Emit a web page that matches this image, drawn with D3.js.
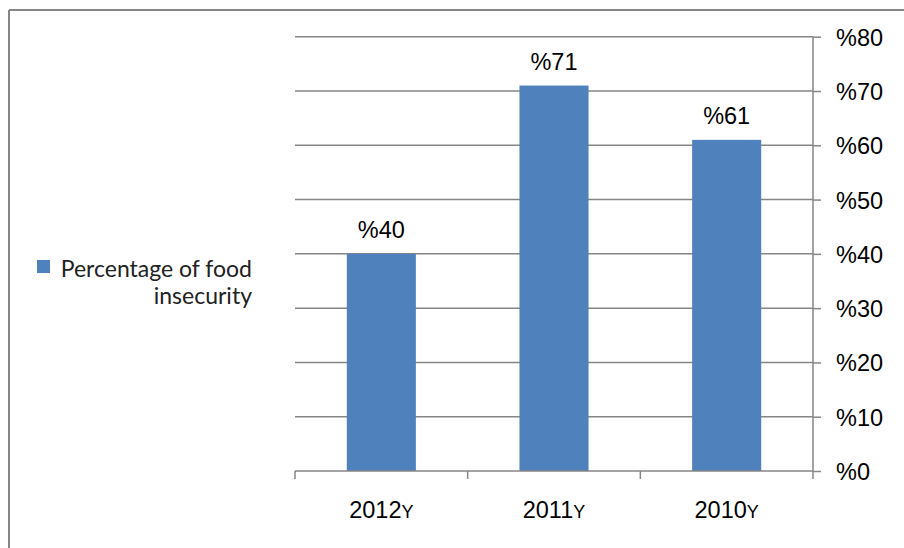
<!DOCTYPE html>
<html>
<head>
<meta charset="utf-8">
<script src="https://cdn.jsdelivr.net/npm/d3@7"></script>
<style>
  html, body { margin: 0; padding: 0; background: #fff; }
  svg { display: block; }
</style>
</head>
<body>
<svg id="chart" width="904" height="548"></svg>
<script>
// Food insecurity by year
const categories = ["2012", "2011", "2010"];
const categorySuffix = "Y";
const values = [40, 71, 61];
const seriesName = "Percentage of food";
const seriesNameLine2 = "insecurity";
const yTicks = [0, 10, 20, 30, 40, 50, 60, 70, 80];

const barColor = "#4F81BD";
const lineColor = "#868686";
const numFont = "'Liberation Sans', Arial, sans-serif";

const svg = d3.select("#chart");
const plot = { left: 295, right: 813, top: 36.7, bottom: 471 };

// Outer frame: top and left edges
svg.append("line").attr("x1", 9).attr("x2", 904).attr("y1", 10).attr("y2", 10)
  .attr("stroke", lineColor).attr("stroke-width", 2);
svg.append("line").attr("x1", 9).attr("x2", 9).attr("y1", 10).attr("y2", 548)
  .attr("stroke", lineColor).attr("stroke-width", 2);

const x = d3.scaleBand().domain(categories).range([plot.left, plot.right]).paddingInner(0.6).paddingOuter(0.3);
const xCat = d3.scaleBand().domain(categories).range([plot.left, plot.right]);
const y = d3.scaleLinear().domain([0, 80]).range([plot.bottom, plot.top]);

// Horizontal gridlines
svg.append("g").selectAll("line").data(yTicks.filter(d => d > 0)).join("line")
  .attr("x1", plot.left).attr("x2", plot.right)
  .attr("y1", d => y(d)).attr("y2", d => y(d))
  .attr("stroke", lineColor).attr("stroke-width", 1.5);

// Right value axis
const yAxis = d3.axisRight(y).tickValues(yTicks).tickSize(8).tickPadding(15)
  .tickFormat(d => "%" + d);
const gy = svg.append("g").attr("transform", `translate(${plot.right},0)`).call(yAxis);
gy.select(".domain").attr("stroke", lineColor).attr("stroke-width", 1.5).attr("d", `M0,${plot.top}V${plot.bottom}`);
gy.selectAll(".tick line").attr("stroke", lineColor).attr("stroke-width", 1.5);
gy.selectAll(".tick text").attr("fill", "#000").attr("dy", "0.36em")
  .style("font-family", numFont).style("font-size", "23.5px");

// Bars
svg.append("g").selectAll("rect").data(values).join("rect")
  .attr("x", (d, i) => x(categories[i]))
  .attr("width", x.bandwidth())
  .attr("y", d => y(d))
  .attr("height", d => y(0) - y(d))
  .attr("fill", barColor);

// Category axis along the bottom
const xAxis = d3.axisBottom(xCat).tickSize(0).tickFormat("");
const gx = svg.append("g").attr("transform", `translate(0,${plot.bottom})`).call(xAxis);
gx.select(".domain").attr("stroke", lineColor).attr("stroke-width", 1.5).attr("d", `M${plot.left},0H${plot.right}`);
// category boundary ticks
const bounds = categories.map(c => xCat(c)).concat([plot.right]);
svg.append("g").selectAll("line").data(bounds).join("line")
  .attr("x1", d => d).attr("x2", d => d)
  .attr("y1", plot.bottom).attr("y2", plot.bottom + 8)
  .attr("stroke", lineColor).attr("stroke-width", 1.5);

// Category labels with smaller year marker
const labels = svg.append("g").selectAll("text").data(categories).join("text")
  .attr("x", d => xCat(d) + xCat.bandwidth() / 2)
  .attr("y", 518)
  .attr("text-anchor", "middle")
  .attr("fill", "#000")
  .style("font-family", numFont)
  .style("font-size", "23.5px");
labels.append("tspan").text(d => d);
labels.append("tspan").text(categorySuffix).style("font-size", "18px");

// Value labels above bars
svg.append("g").selectAll("text").data(values).join("text")
  .attr("x", (d, i) => x(categories[i]) + x.bandwidth() / 2)
  .attr("y", d => y(d) - 16)
  .attr("text-anchor", "middle")
  .attr("fill", "#000")
  .style("font-family", numFont)
  .style("font-size", "23.5px")
  .text(d => "%" + d);

// Legend
const legend = svg.append("g");
legend.append("rect").attr("x", 37).attr("y", 260).attr("width", 13).attr("height", 13).attr("fill", barColor);
legend.append("text").attr("x", 252).attr("y", 277).attr("text-anchor", "end")
  .attr("fill", "#222").style("font-family", "Lato, sans-serif").style("font-size", "23px")
  .text(seriesName);
legend.append("text").attr("x", 252).attr("y", 304).attr("text-anchor", "end")
  .attr("fill", "#222").style("font-family", "Lato, sans-serif").style("font-size", "23px")
  .text(seriesNameLine2);
</script>
</body>
</html>
